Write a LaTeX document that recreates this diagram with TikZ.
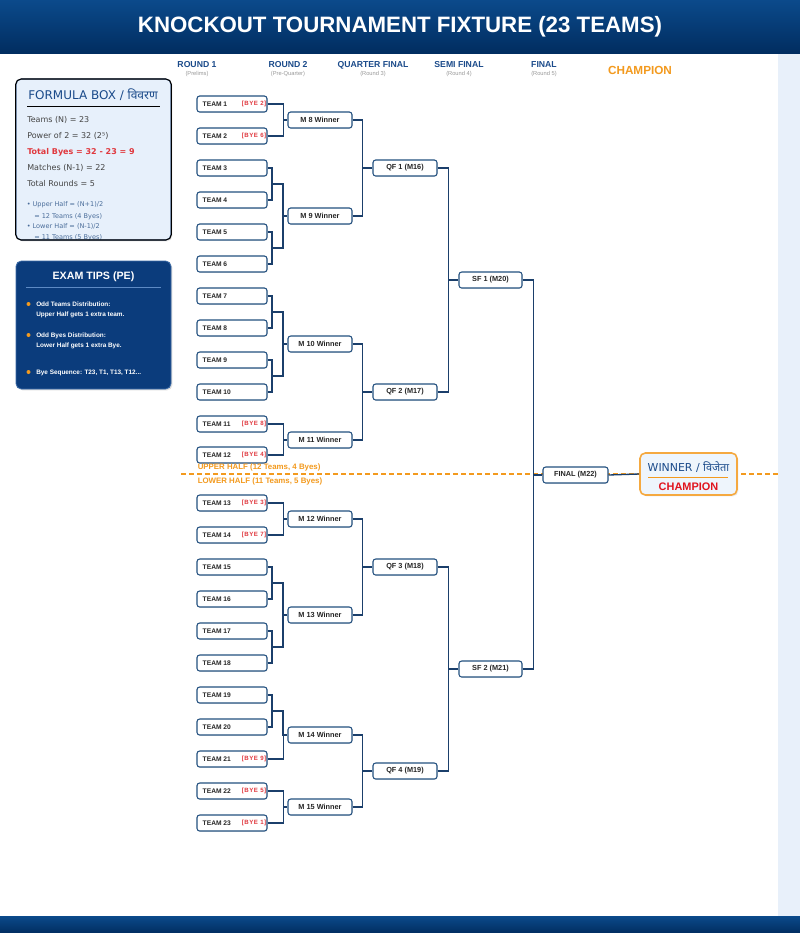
\documentclass[tikz,border=0pt]{standalone}
\usepackage{fontspec}
\setmainfont{Liberation Sans}
\newfontfamily\dejavu{DejaVu Sans}
\newfontfamily\deva[Script=Devanagari]{Noto Sans}
\newfontfamily\byefont[LetterSpace=8]{Liberation Sans}
\usetikzlibrary{shadows,calc}
\definecolor{hdtop}{HTML}{0B4A8B}
\definecolor{hdbot}{HTML}{012D60}
\definecolor{navy}{HTML}{1B3F6B}
\definecolor{boxline}{HTML}{23507F}
\definecolor{lbl}{HTML}{1A4A8A}
\definecolor{orng}{HTML}{F39A1E}
\definecolor{byered}{HTML}{E0383E}
\definecolor{fbfill}{HTML}{E7F0FB}
\definecolor{fbline}{HTML}{5A7BA8}
\definecolor{fbtext}{HTML}{444444}
\definecolor{fbsmall}{HTML}{4A6D9A}
\definecolor{tipfill}{HTML}{0B3C7C}
\definecolor{tipline}{HTML}{5D8AC4}
\definecolor{strip}{HTML}{E8F0FA}
\definecolor{winfill}{HTML}{EEF5FC}
\definecolor{champred}{HTML}{E0141E}
\definecolor{subgray}{HTML}{999999}
\newcommand{\fsz}[1]{\fontsize{#1}{#1}\selectfont}
\begin{document}
\begin{tikzpicture}[x=0.75pt,y=-0.75pt,
  conn/.style={draw=navy,line width=1pt},
  teambox/.style={draw=boxline,fill=white,line width=0.8pt,rounded corners=2pt,
    minimum width=52.5pt,minimum height=12pt,inner sep=0pt,
    drop shadow={shadow xshift=0.6pt,shadow yshift=-0.6pt,opacity=0.15}},
  matchbox/.style={teambox,minimum width=48pt,font=\bfseries\fsz{5.5pt},text=black!85},
  teamtxt/.style={font=\bfseries\fsz{5pt},text=black!85,inner sep=0pt},
  byetxt/.style={font=\byefont\bfseries\fsz{4.6pt},text=byered,inner sep=0pt},
  roundlbl/.style={font=\bfseries\fsz{6.5pt},text=lbl,inner sep=0pt},
  roundsub/.style={font=\fsz{4.3pt},text=subgray,inner sep=0pt},
  halflbl/.style={font=\bfseries\fsz{5.9pt},text=orng,inner sep=0pt,anchor=west},
  fbline/.style={font=\dejavu\fsz{6pt},text=fbtext,inner sep=0pt,anchor=west},
  fbsmall/.style={font=\dejavu\fsz{4.9pt},text=fbsmall,inner sep=0pt,anchor=west},
  tiptxt/.style={font=\bfseries\fsz{4.8pt},text=white,inner sep=0pt,anchor=west},
  tipdot/.style={circle,fill=orng,inner sep=0pt,minimum size=3pt}
]
\useasboundingbox (0,0) rectangle (800,933);
\fill[white] (0,0) rectangle (800,933);
% right strip
\fill[strip] (778,53) rectangle (800,916);
% header and footer
\shade[top color=hdtop,bottom color=hdbot] (0,0) rectangle (800,53);
\shade[top color=hdtop,bottom color=hdbot] (0,916) rectangle (800,933);
\node[font=\bfseries\fsz{16.7pt},text=white,inner sep=0pt] (title) at (400,27) {KNOCKOUT TOURNAMENT FIXTURE (23 TEAMS)};

% round labels
\node[roundlbl] (r1) at (197,65) {ROUND 1};
\node[roundsub] (r1s) at (197,74.5) {(Prelims)};
\node[roundlbl] (r2) at (288,65) {ROUND 2};
\node[roundsub] (r2s) at (288,74.5) {(Pre-Quarter)};
\node[roundlbl] (r3) at (373,65) {QUARTER FINAL};
\node[roundsub] (r3s) at (373,74.5) {(Round 3)};
\node[roundlbl] (r4) at (459,65) {SEMI FINAL};
\node[roundsub] (r4s) at (459,74.5) {(Round 4)};
\node[roundlbl] (r5) at (544,65) {FINAL};
\node[roundsub] (r5s) at (544,74.5) {(Round 5)};
\node[font=\bfseries\fsz{8.8pt},text=orng,inner sep=0pt] (champhd) at (640,70) {CHAMPION};

% formula box
\node[draw=fbline,fill=fbfill,line width=0.8pt,rounded corners=4pt,minimum width=116.25pt,minimum height=120.75pt,inner sep=0pt,
  drop shadow={shadow xshift=1pt,shadow yshift=-1pt,opacity=0.2}] (fbox) at (93.5,159.5) {};
\node[font=\dejavu\fsz{9pt},text=lbl,inner sep=0pt,anchor=west] (fbt) at (28,95) {FORMULA BOX / {\deva विवरण}};
\draw[fbline,line width=0.6pt] (27,106.5) -- (160,106.5);
\node[fbline] (f1) at (27,120) {Teams (N) = 23};
\node[fbline] (f2) at (27,136.3) {Power of 2 = 32 (2⁵)};
\node[fbline,font=\dejavu\bfseries\fsz{6pt},text=byered] (f3) at (27,152.3) {Total Byes = 32 - 23 = 9};
\node[fbline] (f4) at (27,168.3) {Matches (N-1) = 22};
\node[fbline] (f5) at (27,184) {Total Rounds = 5};
\begin{scope}
\clip[rounded corners=4pt] (15.7,79) rectangle (171.3,240);
\node[fbsmall] (f6) at (26.5,205) {• Upper Half = (N+1)/2};
\node[fbsmall] (f7) at (34,216.3) {= 12 Teams (4 Byes)};
\node[fbsmall] (f8) at (26.5,226.7) {• Lower Half = (N-1)/2};
\node[fbsmall] (f9) at (34,238) {= 11 Teams (5 Byes)};
\end{scope}
\draw[fbline,line width=0.8pt,rounded corners=4pt] (15.7,79) rectangle (171.3,240);

% exam tips
\node[draw=tipline!60!tipfill,fill=tipfill,line width=0.6pt,rounded corners=4pt,minimum width=116.25pt,minimum height=96pt,inner sep=0pt,
  drop shadow={shadow xshift=1pt,shadow yshift=-1pt,opacity=0.25}] (tips) at (93.5,325) {};
\node[font=\bfseries\fsz{8pt},text=white,inner sep=0pt] (tipt) at (93.5,276.5) {EXAM TIPS (PE)};
\draw[tipline,line width=0.8pt] (26,287.5) -- (161,287.5);
\node[tipdot] (d1) at (28.5,304) {};
\node[tiptxt] (tp1) at (36,304.3) {Odd Teams Distribution:};
\node[tiptxt] (tp2) at (36,315.3) {Upper Half gets 1 extra team.};
\node[tipdot] (d2) at (28.5,335) {};
\node[tiptxt] (tp3) at (36,335.5) {Odd Byes Distribution:};
\node[tiptxt] (tp4) at (36,345.5) {Lower Half gets 1 extra Bye.};
\node[tipdot] (d3) at (28.5,372) {};
\node[tiptxt] (tp5) at (36,372.5) {Bye Sequence: T23, T1, T13, T12...};

% dashed half line
\coordinate (dl) at (181,474);
\coordinate (dr) at (778,474);
\draw[orng,line width=0.9pt,dash pattern=on 3.75pt off 2.25pt] (dl) -- (dr);

% match boxes
\node[matchbox] (m8) at (320,120) {M 8 Winner};
\node[matchbox] (m9) at (320,216) {M 9 Winner};
\node[matchbox] (m10) at (320,344) {M 10 Winner};
\node[matchbox] (m11) at (320,440) {M 11 Winner};
\node[matchbox] (m12) at (320,519) {M 12 Winner};
\node[matchbox] (m13) at (320,615) {M 13 Winner};
\node[matchbox] (m14) at (320,735) {M 14 Winner};
\node[matchbox] (m15) at (320,807) {M 15 Winner};
\node[matchbox] (qf1) at (405,168) {QF 1 (M16)};
\node[matchbox] (qf2) at (405,392) {QF 2 (M17)};
\node[matchbox] (qf3) at (405,567) {QF 3 (M18)};
\node[matchbox] (qf4) at (405,771) {QF 4 (M19)};
\node[matchbox,minimum width=47.25pt] (sf1) at (490.5,280) {SF 1 (M20)};
\node[matchbox,minimum width=47.25pt] (sf2) at (490.5,669) {SF 2 (M21)};
\node[matchbox,minimum width=48.75pt] (fin) at (575.5,475) {FINAL (M22)};

% teams
\foreach \n/\yy/\b in {1/104/2,2/136/6,3/168/0,4/200/0,5/232/0,6/264/0,7/296/0,8/328/0,9/360/0,10/392/0,11/424/8,12/455/4,
  13/503/3,14/535/7,15/567/0,16/599/0,17/631/0,18/663/0,19/695/0,20/727/0,21/759/9,22/791/5,23/823/1}{
  \node[teambox] (t\n) at (232,\yy) {};
  \node[teamtxt,anchor=west] (tl\n) at ([xshift=4.5pt]t\n.west) {TEAM \n};
  \ifnum\b>0 \node[byetxt,anchor=east] (tb\n) at ([xshift=-0.8pt]t\n.east) {[BYE \b]};\fi
}

% half labels (drawn over boxes)
\node[halflbl] (uh) at (197.5,467.5) {UPPER HALF (12 Teams, 4 Byes)};
\node[halflbl] (lh) at (197.5,481) {LOWER HALF (11 Teams, 5 Byes)};

% round 1 pair joins
\foreach \a/\b/\yy in {3/4/184,5/6/248,7/8/312,9/10/376,15/16/583,17/18/647,19/20/711}{
  \coordinate (p\a) at (272,\yy);
  \draw[conn] (t\a.east) -| (p\a);
  \draw[conn] (t\b.east) -| (p\a);
}
% to round 2
\draw[conn] (t1.east) -- ++(16,0) |- (m8.west);
\draw[conn] (t2.east) -- ++(16,0) |- (m8.west);
\draw[conn] (p3) -- ++(11,0) |- (m9.west);
\draw[conn] (p5) -- ++(11,0) |- (m9.west);
\draw[conn] (p7) -- ++(11,0) |- (m10.west);
\draw[conn] (p9) -- ++(11,0) |- (m10.west);
\draw[conn] (t11.east) -- ++(16,0) |- (m11.west);
\draw[conn] (t12.east) -- ++(16,0) |- (m11.west);
\draw[conn] (t13.east) -- ++(16,0) |- (m12.west);
\draw[conn] (t14.east) -- ++(16,0) |- (m12.west);
\draw[conn] (p15) -- ++(11,0) |- (m13.west);
\draw[conn] (p17) -- ++(11,0) |- (m13.west);
\draw[conn] (p19) -- ++(11,0) |- (m14.west);
\draw[conn] (t21.east) -- ++(16,0) |- (m14.west);
\draw[conn] (t22.east) -- ++(16,0) |- (m15.west);
\draw[conn] (t23.east) -- ++(16,0) |- (m15.west);
% to QF
\draw[conn] (m8.east) -- ++(10,0) |- (qf1.west);
\draw[conn] (m9.east) -- ++(10,0) |- (qf1.west);
\draw[conn] (m10.east) -- ++(10,0) |- (qf2.west);
\draw[conn] (m11.east) -- ++(10,0) |- (qf2.west);
\draw[conn] (m12.east) -- ++(10,0) |- (qf3.west);
\draw[conn] (m13.east) -- ++(10,0) |- (qf3.west);
\draw[conn] (m14.east) -- ++(10,0) |- (qf4.west);
\draw[conn] (m15.east) -- ++(10,0) |- (qf4.west);
% to SF
\draw[conn] (qf1.east) -- ++(11,0) |- (sf1.west);
\draw[conn] (qf2.east) -- ++(11,0) |- (sf1.west);
\draw[conn] (qf3.east) -- ++(11,0) |- (sf2.west);
\draw[conn] (qf4.east) -- ++(11,0) |- (sf2.west);
% to final
\draw[conn] (sf1.east) -- ++(11,0) |- (fin.west);
\draw[conn] (sf2.east) -- ++(11,0) |- (fin.west);

% winner
\node[draw=orng!85!white,fill=winfill,line width=1.2pt,rounded corners=4pt,minimum width=72.75pt,minimum height=31.5pt,inner sep=0pt,
  drop shadow={shadow xshift=1pt,shadow yshift=-1pt,opacity=0.15}] (win) at (688.5,474) {};
\draw[conn] (fin.east) -- (win.west);
\node[font=\dejavu\fsz{8.2pt},text=lbl,inner sep=0pt] (wint) at (688.5,467.5) {WINNER / {\deva विजेता}};
\draw[orng,line width=0.8pt] (648,477.3) -- (728,477.3);
\node[font=\bfseries\fsz{8.2pt},text=champred,inner sep=0pt] (winc) at (688.5,486.5) {CHAMPION};
\end{tikzpicture}
\end{document}
